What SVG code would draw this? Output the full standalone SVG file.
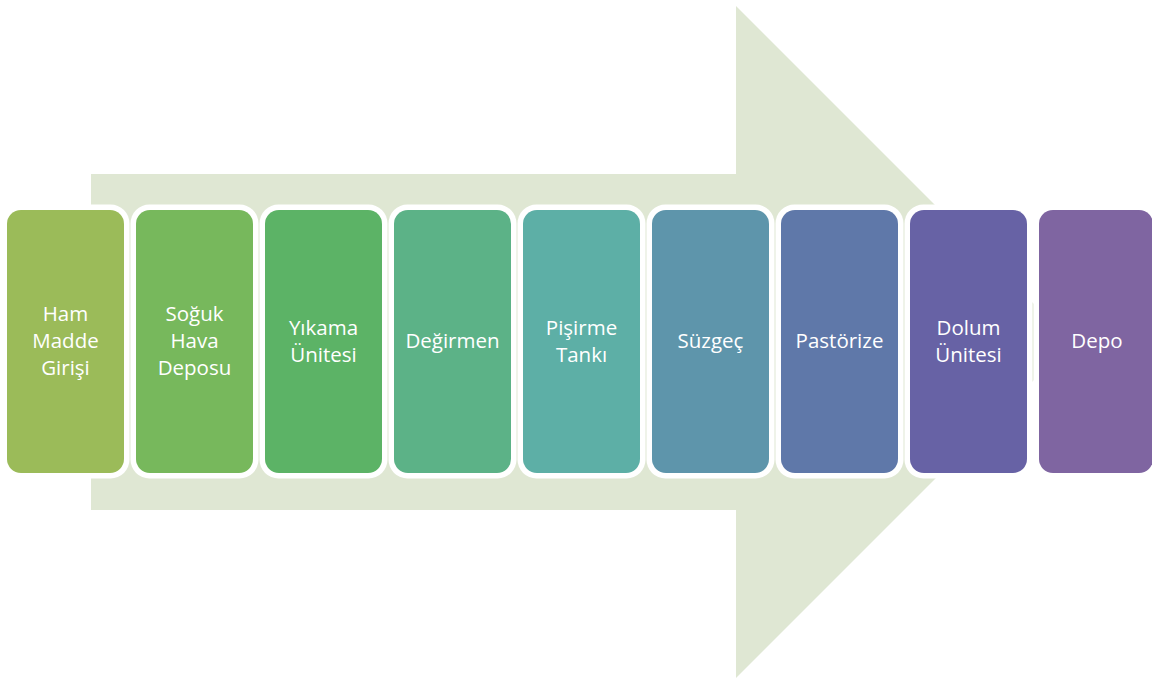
<svg xmlns="http://www.w3.org/2000/svg" width="1152" height="678" viewBox="0 0 1152 678">
<style>
.edge{fill:#FFFFFF}
.t{font-family:"Open Sans","Liberation Sans",sans-serif;font-size:20.5px;fill:#FFFFFF;text-anchor:middle}
</style>
<rect width="1152" height="678" fill="#FFFFFF"/>
<g id="arrow">
<polygon points="91,174 736,174 736,6 1072,342 736,678 736,510 91,510" fill="#DFE7D3"/>
</g>
<g id="connectors"></g>
<g id="n1"><rect class="edge" x="1.5" y="204.5" width="128" height="274" rx="19"/><rect x="7" y="210" width="117" height="263" rx="14" fill="#9BBB59"/>
<text class="t" x="65.5" y="321">Ham</text><text class="t" x="65.5" y="348">Madde</text><text class="t" x="65.5" y="375">Girişi</text></g>
<g id="n2"><rect class="edge" x="130.5" y="204.5" width="128" height="274" rx="19"/><rect x="136" y="210" width="117" height="263" rx="14" fill="#77B85C"/>
<text class="t" x="194.5" y="321">Soğuk</text><text class="t" x="194.5" y="348">Hava</text><text class="t" x="194.5" y="375">Deposu</text></g>
<g id="n3"><rect class="edge" x="259.5" y="204.5" width="128" height="274" rx="19"/><rect x="265" y="210" width="117" height="263" rx="14" fill="#5CB366"/>
<text class="t" x="323.5" y="335">Yıkama</text><text class="t" x="323.5" y="362">Ünitesi</text></g>
<g id="n4"><rect class="edge" x="388.5" y="204.5" width="128" height="274" rx="19"/><rect x="394" y="210" width="117" height="263" rx="14" fill="#5CB287"/>
<text class="t" x="452.5" y="348">Değirmen</text></g>
<g id="n5"><rect class="edge" x="517.5" y="204.5" width="128" height="274" rx="19"/><rect x="523" y="210" width="117" height="263" rx="14" fill="#5DAFA6"/>
<text class="t" x="581.5" y="335">Pişirme</text><text class="t" x="581.5" y="362">Tankı</text></g>
<g id="n6"><rect class="edge" x="646.5" y="204.5" width="128" height="274" rx="19"/><rect x="652" y="210" width="117" height="263" rx="14" fill="#5E95AB"/>
<text class="t" x="710.5" y="348">Süzgeç</text></g>
<g id="n7"><rect class="edge" x="775.5" y="204.5" width="128" height="274" rx="19"/><rect x="781" y="210" width="117" height="263" rx="14" fill="#5F78A9"/>
<text class="t" x="839.5" y="348">Pastörize</text></g>
<g id="n8"><rect class="edge" x="904.5" y="204.5" width="128" height="274" rx="19"/><rect x="910" y="210" width="117" height="263" rx="14" fill="#6762A5"/>
<text class="t" x="968.5" y="335">Dolum</text><text class="t" x="968.5" y="362">Ünitesi</text></g>
<g id="n9"><rect class="edge" x="1033.5" y="204.5" width="128" height="274" rx="19"/><rect x="1039" y="210" width="114" height="263" rx="14" fill="#7F65A1"/>
<text class="t" x="1097" y="348">Depo</text></g>
</svg>
